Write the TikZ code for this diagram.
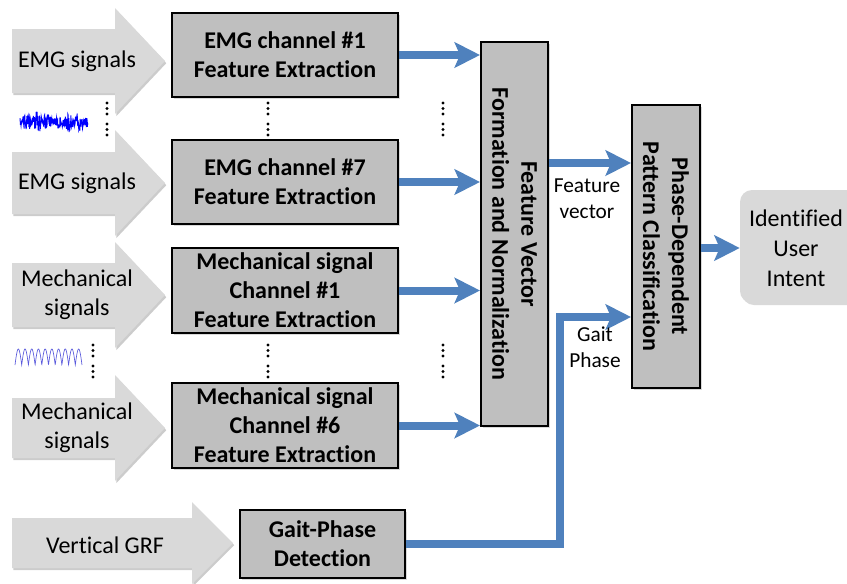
\documentclass[tikz,border=0pt]{standalone}
\usepackage{fontspec}
\setmainfont{Carlito}[Ligatures=NoCommon]
\usetikzlibrary{arrows.meta,shadows}
\definecolor{boxgray}{RGB}{191,191,191}
\definecolor{arrgray}{RGB}{217,217,217}
\definecolor{linkblue}{RGB}{79,129,189}
\definecolor{emgblue}{RGB}{0,0,255}
\definecolor{mechblue}{RGB}{90,90,220}
\def\u{0.75pt}
\tikzset{
  procbox/.style={draw=black, line width=1.5pt, fill=boxgray,
    drop shadow={shadow xshift=1.5pt,shadow yshift=-1.5pt,opacity=0.3},
    inner sep=0pt, align=center,
    font=\fontsize{18}{21.75}\selectfont\bfseries},
  boldtxt/.style={inner sep=0pt, align=center, font=\fontsize{18}{21.75}\selectfont\bfseries},
  sigtext/.style={inner sep=0pt, align=center, font=\fontsize{18}{21.75}\selectfont},
  lbl/.style={inner sep=0pt, align=center, font=\fontsize{16}{19.5}\selectfont},
  link/.style={draw=linkblue, line width=6pt, line join=miter,
    -{Stealth[length=19pt, width=19pt, inset=4pt]}},
  arrbody/.style={fill=arrgray},
  arrshadow/.style={fill=black!50, opacity=0.4, xshift=1pt, yshift=-1.6pt},
  sigdot/.style={fill=black}
}
\newcommand{\fatarrow}[6]{%
  \foreach \st in {arrshadow,arrbody}{%
    \fill[\st] (#1,{#4-#5}) -- (#2,{#4-#5}) -- (#2,{#4-#6}) -- (#3,#4)
      -- (#2,{#4+#6}) -- (#2,{#4+#5}) -- (#1,{#4+#5}) -- cycle;}}
\begin{document}
\begin{tikzpicture}[x=0.75pt,y=-0.75pt]
\useasboundingbox (0,0) rectangle (847,583);
\clip (0,0) rectangle (847,583);

% big input arrows
\fatarrow{12}{115}{165}{61}{32}{53}
\fatarrow{12}{115}{165}{183}{31}{53}
\fatarrow{12}{115}{165}{295}{32}{53}
\fatarrow{12}{115}{165}{428}{30}{53}
\fatarrow{12}{192}{233}{543}{25}{41}

\node[sigtext] (s1) at (77,61) {EMG signals};
\node[sigtext] (s2) at (77,183) {EMG signals};
\node[sigtext] (s3) at (77,295) {Mechanical\\signals};
\node[sigtext] (s4) at (77,428) {Mechanical\\signals};
\node[sigtext] (s5) at (105,545) {Vertical GRF};

% processing boxes
\node[procbox, minimum width=226*\u, minimum height=84*\u] (e1) at (285,55) {EMG channel \#1\\Feature Extraction};
\node[procbox, minimum width=226*\u, minimum height=84*\u] (e7) at (285,182) {EMG channel \#7\\Feature Extraction};
\node[procbox, minimum width=226*\u, minimum height=85*\u] (m1) at (285,290.5) {Mechanical signal\\Channel \#1\\Feature Extraction};
\node[procbox, minimum width=226*\u, minimum height=85*\u] (m6) at (285,425.5) {Mechanical signal\\Channel \#6\\Feature Extraction};
\node[procbox, minimum width=165*\u, minimum height=68*\u] (gpd) at (322.5,544) {Gait-Phase\\Detection};

\node[procbox, minimum width=67*\u, minimum height=384*\u] (fv) at (514.5,234) {};
\node[boldtxt, rotate=-90] (fvt) at (fv.center) {Feature Vector\\Formation and Normalization};
\node[procbox, minimum width=68*\u, minimum height=283*\u] (pd) at (666,246.5) {};
\node[boldtxt, rotate=-90] (pdt) at (pd.center) {Phase-Dependent\\Pattern Classification};

\node[fill=arrgray, rounded corners=9pt, minimum width=125*\u, minimum height=113*\u,
  drop shadow={shadow xshift=1.5pt,shadow yshift=-1.5pt,opacity=0.3}] (intent) at (802.5,246.5) {};
\node[sigtext, font=\fontsize{18}{22.5}\selectfont] (intentt) at (796,248) {Identified\\User\\Intent};

% connectors
\draw[link] (e1.east) -- (e1.east -| fv.west);
\draw[link] (e7.east) -- (e7.east -| fv.west);
\draw[link] (m1.east) -- (m1.east -| fv.west);
\draw[link] (m6.east) -- (m6.east -| fv.west);
\draw[link] (fv.east |- 0,163) -- (pd.west |- 0,163);
\coordinate (g1) at (560,544);
\coordinate (g2) at (560,317);
\draw[link] (gpd.east) -- (g1) -- (g2) -- (pd.west |- g2);
\draw[link] (pd.east |- 0,248) -- (intent.west |- 0,248);

\node[lbl] (fvl) at (587,199) {Feature\\vector};
\node[lbl] (gpl) at (595,347) {Gait\\Phase};

% ellipsis dots
\foreach \x in {107,268,443}{
  \foreach \y in {103,108.5,114,124,129.5,135}{\fill[sigdot] (\x,\y) circle (1.2pt);}}
\foreach \x in {93,268,443}{
  \foreach \y in {345,350.5,356,366,371.5,377}{\fill[sigdot] (\x,\y) circle (1.2pt);}}

% signal thumbnails
\pgfmathsetseed{4711}
\draw[emgblue, line width=0.7pt] plot[domain=20:88, samples=200]
  (\x, {122 + (4+7*abs(sin(\x*17))*abs(cos(\x*5)))*rand});
\draw[mechblue, line width=0.5pt] plot[domain=15:82, samples=400]
  (\x, {365 - 16*abs(sin(180*(\x-15)/6.7))});
\end{tikzpicture}
\end{document}
